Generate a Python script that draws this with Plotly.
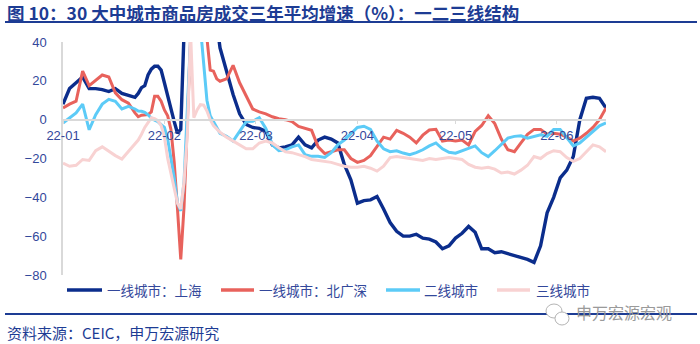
import pandas as pd
import plotly.graph_objects as go

# Day offsets from 2022-01-01 (daily around the Spring Festival swing)
day_offset = list(range(0, 24, 2)) + list(range(23, 49)) + list(range(50, 167, 2))
dates = pd.Timestamp("2022-01-01") + pd.to_timedelta(day_offset, unit="D")

shanghai = [
    8, 16, 19, 22, 16, 16, 15.5, 14.5, 16, 13.5, 12.5, 11.5,
    13.5, 16.5, 17.5, 23, 26, 27.5, 27.5, 25.5, 19, 12, 5, -1, -7, -5, 45, 110,
    180, 230, 250, 240, 200, 160, 120, 80, 50, 37,
    25, 13, 3, -2.5, -4, -4.5, -6, -13, -14.5, -14,
    -13, -9, -13, -14.5, -10.5, -9, -10, -12, -23, -31,
    -43, -41.7, -41.3, -39.6, -46, -53, -57.5, -60, -60, -59,
    -61, -61.5, -63, -66.5, -65, -61, -58.5, -55, -58, -66.5,
    -66.5, -68.5, -68, -69, -70, -71, -72, -73.5, -65, -48,
    -40, -30, -26, -19, 0, 11, 11.5, 11, 6,
]
bei_guang_shen = [
    6, 8, 9.5, 25, 17.5, 20.5, 23, 22, 13.8, 10.3, 8.5, 3.5,
    1.5, 2.3, 2.6, 2.6, 4, 12, 12, 9.5, 5, 2, -5, -22, -46, -72, -45, 0,
    50, 85, 100, 95, 70, 42, 25.5, 25, 21, 19.8,
    21, 28, 19, 12, 5.5, 4, 3, 1.5, 0.5, 0,
    -1, -3.5, -4.5, -5.5, -14, -17.5, -16.5, -15.5, -15.5, -20,
    -22, -21, -18.5, -14, -9, -10, -5.5, -7, -9, -12,
    -8, -5.3, -5, -11, -10.5, -11, -10.5, -13, -6, -3,
    2, -2, -10, -15.5, -16.5, -12, -7.5, -5, -5, -7.5,
    -7, -7.5, -9, -11, -9.5, -7, -4, 0, 6,
]
tier2 = [
    -1.7, 1, 3.5, 8, -5.2, 2.6, 8, 10.5, 9.5, 5.5, 6.9, 5.5,
    4.5, 4.3, 3.8, 2.5, 0.8, -0.3, -1, -2.5, -4, -10, -20, -30, -43, -47, -32, 5,
    42, 70, 65, 48, 28, 10, 2, -1, -4.5, -7,
    -8.6, -11, -6, -1, -0.8, 1, -4.5, -13, -16, -15.5,
    -14, -13, -18, -18.9, -18.9, -19.5, -17, -13, -10.5, -7.5,
    -4, -3.4, -5, -11, -15, -16.5, -16, -17.2, -18, -17,
    -15.5, -13.5, -12, -15, -16.8, -17.3, -16, -14.6, -13.5, -17,
    -19, -16, -12.5, -9.5, -8.6, -8.3, -9.5, -8.6, -7.8, -8.6,
    -5, -5, -9.5, -13.5, -12, -9, -6, -3.2, -1.7,
]
tier3 = [
    -22.4, -24, -23.5, -20.5, -21, -16, -14, -16.3, -18.5, -20.3, -16.5, -12.5,
    -10.5, -7.5, -4, -1.5, 1, 0.5, -0.5, -3, -9, -20, -28, -35, -43, -46, -32, -8,
    45, 1, 5, 7.7, 7.5, 4.5, 0, -3, -5, -6.5,
    -9, -11, -13, -15, -15, -12, -11, -12, -14.5, -16.5,
    -17, -18, -19, -20.5, -21, -21.5, -22, -23, -24, -24.5,
    -24.5, -24, -25, -26.5, -24, -19.5, -19, -19.5, -20, -20.5,
    -21, -20, -20.5, -20, -19.5, -20, -20.5, -23, -24.5, -25,
    -24.5, -25.5, -27.5, -27, -28, -26, -23.5, -19, -20, -17.5,
    -16, -16.5, -19.5, -21.5, -20, -16.5, -13, -14, -16.5,
]

series_names = ["一线城市：上海", "一线城市：北广深", "二线城市", "三线城市"]
series_values = [shanghai, bei_guang_shen, tier2, tier3]
series_colors = ["#0b2d8c", "#e8625c", "#5ccbf7", "#f8d2d2"]
series_widths = [3.4, 3.0, 3.0, 3.0]

month_ticks = ["2022-01-01", "2022-02-01", "2022-03-01", "2022-04-01", "2022-05-01", "2022-06-01"]
month_labels = ["22-01", "22-02", "22-03", "22-04", "22-05", "22-06"]
y_ticks = [-80, -60, -40, -20, 0, 20, 40]

W, H = 700, 344
L, R, T, B = 63, 94, 42, 69
PW, PH = W - L - R, H - T - B
NAVY = "#1d3c94"
TEXT = "#33489b"
CJK = "Noto Sans CJK SC, Liberation Sans, sans-serif"
LAT = "Liberation Sans, Noto Sans CJK SC, sans-serif"


def px(x):
    return (x - L) / PW


def py(y):
    return (H - B - y) / PH


fig = go.Figure()
for name, vals, color, width in zip(series_names, series_values, series_colors, series_widths):
    fig.add_trace(go.Scatter(x=dates, y=vals, name=name, mode="lines",
                             line=dict(color=color, width=width), showlegend=False,
                             hoverinfo="skip"))

shapes = [
    dict(type="line", xref="paper", yref="paper", x0=px(5), x1=px(697), y0=py(22), y1=py(22),
         line=dict(color=NAVY, width=2)),
    dict(type="line", xref="paper", yref="paper", x0=px(5), x1=px(697), y0=py(314), y1=py(314),
         line=dict(color=NAVY, width=2)),
]
annotations = [
    dict(text="<b>图 10：30 大中城市商品房成交三年平均增速（%）：一二三线结构</b>", xref="paper", yref="paper",
         x=px(6), y=py(12.5), xanchor="left", yanchor="middle", showarrow=False,
         borderpad=0, font=dict(family=CJK, size=17.5, color=NAVY)),
    dict(text="资料来源：CEIC，申万宏源研究", xref="paper", yref="paper",
         x=px(5), y=py(332), xanchor="left", yanchor="middle", showarrow=False,
         font=dict(family=CJK, size=15, color=NAVY)),
]

# legend drawn as line swatches with labels
legend_slots = [(67, 102, 105), (221, 254, 257), (386, 420, 422), (497, 530, 534)]
for (x0, x1, xt), name, color in zip(legend_slots, series_names, series_colors):
    shapes.append(dict(type="line", xref="paper", yref="paper", x0=px(x0), x1=px(x1),
                       y0=py(290), y1=py(290), line=dict(color=color, width=3.5)))
    annotations.append(dict(text=name, xref="paper", yref="paper", x=px(xt), y=py(290),
                            xanchor="left", yanchor="middle", showarrow=False,
                            font=dict(family=CJK, size=13.5, color=TEXT)))

# account mark in the footer
shapes.append(dict(type="circle", xref="paper", yref="paper", x0=px(546), x1=px(562),
                   y0=py(318), y1=py(304), line=dict(color="#b5b5b5", width=1), fillcolor="white"))
shapes.append(dict(type="circle", xref="paper", yref="paper", x0=px(555), x1=px(569),
                   y0=py(325), y1=py(312), line=dict(color="#b5b5b5", width=1), fillcolor="white"))
annotations.append(dict(text="申万宏源宏观", xref="paper", yref="paper", x=px(574), y=py(312),
                        xanchor="left", yanchor="middle", showarrow=False,
                        font=dict(family=CJK, size=16, color="#9a9a9a")))

fig.update_layout(
    width=W, height=H,
    margin=dict(l=L, r=R, t=T, b=B),
    paper_bgcolor="white", plot_bgcolor="white",
    showlegend=False,
    shapes=shapes,
    annotations=annotations,
    xaxis=dict(type="date", range=["2022-01-01", "2022-06-16"],
               anchor="free", position=2 / 3,
               tickvals=month_ticks, ticktext=month_labels,
               showgrid=False, zeroline=False,
               showline=True, linecolor="#d9d9d9", linewidth=1.5,
               ticks="outside", ticklen=4, tickcolor="#d9d9d9",
               tickfont=dict(family=LAT, size=13, color=TEXT)),
    yaxis=dict(range=[-80, 40], tickvals=y_ticks,
               showgrid=False, zeroline=False,
               showline=True, linecolor="#d9d9d9", linewidth=1.5,
               ticks="", ticklabelstandoff=12,
               tickfont=dict(family=LAT, size=13, color=TEXT)),
)

fig.write_html("out.html")
